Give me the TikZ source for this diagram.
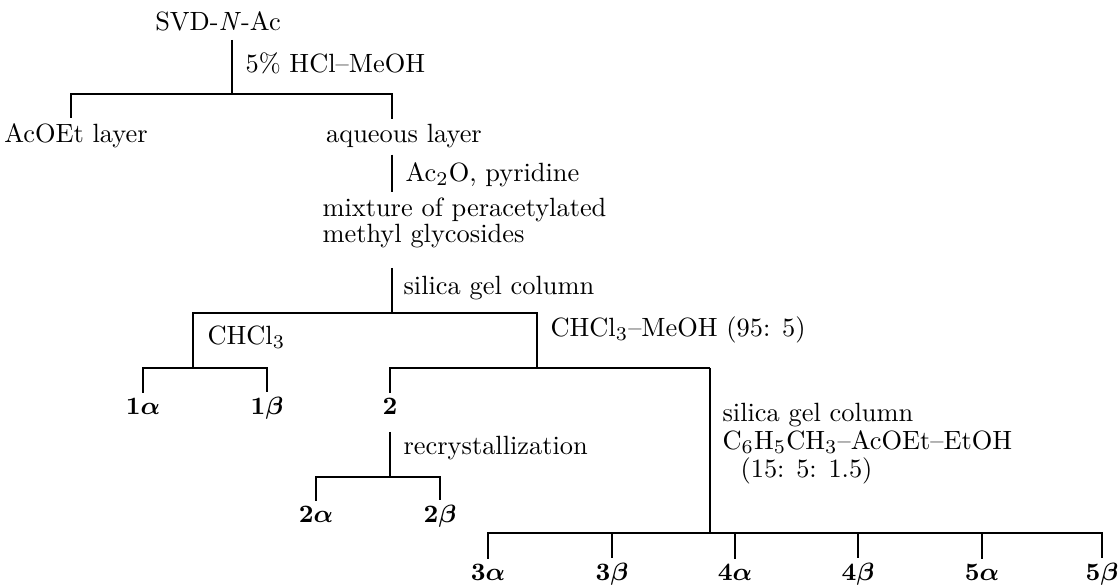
\documentclass[tikz,border=0pt]{standalone}
\usepackage{amsmath,amssymb}
\usepackage{tikz}
\usetikzlibrary{positioning,calc}

\begin{document}
\begin{tikzpicture}[x=0.36pt, y=-0.36pt, line width=0.4pt, font=\fontsize{9.5pt}{11pt}\selectfont]
  \tikzstyle{lbl}=[inner xsep=0pt, inner ysep=2pt, anchor=base west]
  \tikzstyle{cpd}=[inner xsep=0pt, inner ysep=2pt, anchor=base]
  \useasboundingbox (0,0) rectangle (1118,585);

  % hydrolysis
  \node[cpd] (svd) at (218,31) {SVD-\textit{N}-Ac};
  \node[lbl] (hcl) at (245,73) {5\% HCl--MeOH};
  \node[cpd] (acoet) at (76,143) {AcOEt layer};
  \node[cpd] (aq) at (404,143) {aqueous layer};
  \coordinate (s0) at (232,40);
  \coordinate (s1) at (232,94);
  \coordinate (s1l) at (71,94);
  \coordinate (s1r) at (392,94);
  \draw (s0) -- (s1);
  \draw (acoet.north -| s1l) -- (s1l) -- (s1r) -- (aq.north -| s1r);

  % acetylation
  \node[lbl] (ac2o) at (405,182) {Ac$_2$O, pyridine};
  \node[lbl] (mix) at (322,217) {mixture of peracetylated};
  \node[lbl] (gly) at (322,243) {methyl glycosides};
  \draw (aq.south -| s1r) -- (mix.north -| s1r);
  \coordinate (g0) at (392,268);
  \coordinate (g1) at (392,313);
  \draw (g0) -- (g1);
  \node[lbl] (col1) at (403,295) {silica gel column};

  % first column
  \coordinate (k1) at (193,313);
  \coordinate (k2) at (537,313);
  \coordinate (k1b) at (193,368);
  \coordinate (k2b) at (537,368);
  \draw (k1b) -- (k1) -- (k2) -- (k2b);
  \node[lbl] (chcl) at (207,345) {CHCl$_3$};
  \node[lbl] (elu) at (550,337) {CHCl$_3$--MeOH (95: 5)};

  % fraction 1
  \node[cpd] (p1a) at (143,415) {$\mathbf{1}\boldsymbol{\alpha}$};
  \node[cpd] (p1b) at (267,415) {$\mathbf{1}\boldsymbol{\beta}$};
  \draw (p1a.north) |- (k1b) -| (p1b.north);

  % fraction 2
  \coordinate (m2) at (710,368);
  \node[cpd] (p2) at (390,415) {$\mathbf{2}$};
  \draw (p2.north) |- (m2);
  \coordinate (r0) at (390,432);
  \coordinate (r1) at (390,477);
  \draw (r0) -- (r1);
  \node[lbl] (recr) at (403,455) {recrystallization};
  \node[cpd] (p2a) at (316,523) {$\mathbf{2}\boldsymbol{\alpha}$};
  \node[cpd] (p2b) at (440,523) {$\mathbf{2}\boldsymbol{\beta}$};
  \draw (p2a.north) -- (p2a.north |- r1) -- (p2b.north |- r1) -- (p2b.north);

  % second column
  \coordinate (m3) at (710,533);
  \draw (m2) -- (m3);
  \node[lbl] (col2) at (722,422) {silica gel column};
  \node[lbl] (solv) at (722,450) {C$_6$H$_5$CH$_3$--AcOEt--EtOH};
  \node[lbl] (ratio) at (740,478) {(15: 5: 1.5)};
  \foreach \x/\n/\g [count=\i] in {488/3/\alpha, 612/3/\beta, 735/4/\alpha, 858/4/\beta, 982/5/\alpha, 1102/5/\beta}
    \node[cpd] (p\i) at (\x,581) {$\mathbf{\n}\boldsymbol{\g}$};
  \draw (p1.north) |- (m3) -| (p6.north);
  \foreach \i in {2,...,5}
    \draw (p\i.north) -- (p\i.north |- m3);
\end{tikzpicture}
\end{document}
